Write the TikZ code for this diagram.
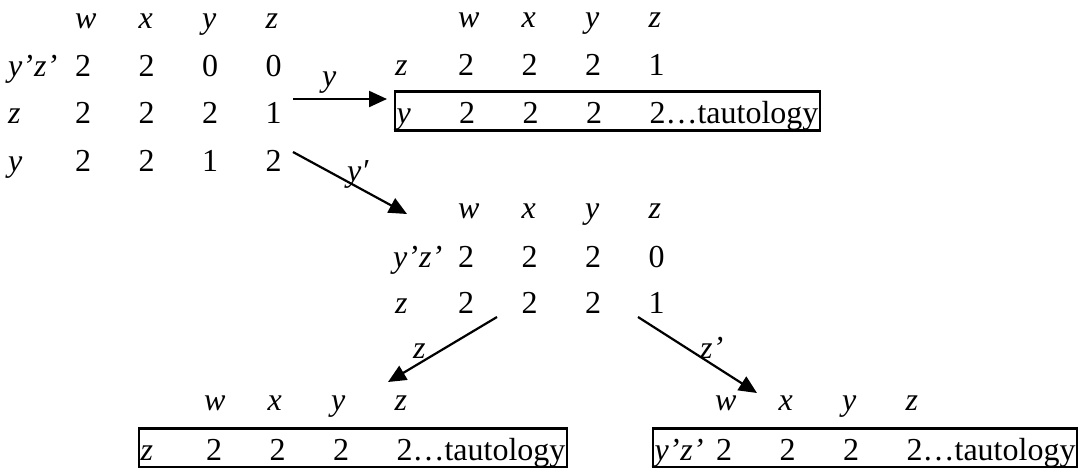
\documentclass[tikz,border=0pt]{standalone}
\usepackage{fontspec}
\setmainfont{Liberation Serif}
\usetikzlibrary{arrows.meta}

\newcommand{\tcell}[1]{\makebox[63.5pt][l]{#1}}
\newcommand{\rlab}[2]{\makebox[#1][l]{\itshape #2}}

\begin{document}
\begin{tikzpicture}[x=1pt, y=-1pt,
  row/.style={anchor=base west, inner sep=0pt, font=\fontsize{32}{38}\selectfont},
  hdr/.style={row, font=\fontsize{32}{38}\selectfont\itshape},
  tbox/.style={row, draw, line width=2.2pt, inner xsep=1.5pt, inner ysep=0pt, text height=31.5pt, text depth=7.5pt},
  arr/.style={-{Triangle[length=18pt,width=16pt]}, line width=2.2pt},
  lbl/.style={anchor=base west, inner sep=0pt, font=\fontsize{32}{38}\selectfont\itshape}
]
  \useasboundingbox (0,0) rectangle (1081,467);

  %% Table 1: start (top-left)
  \node[hdr] (t1h)  at (75,28)  {\tcell{w}\tcell{x}\tcell{y}z};
  \node[row] (t1r1) at (8,76)   {\rlab{67pt}{y’\kern1pt z’}\tcell{2}\tcell{2}\tcell{0}0};
  \node[row] (t1r2) at (8,123)  {\rlab{67pt}{z}\tcell{2}\tcell{2}\tcell{2}1};
  \node[row] (t1r3) at (8,171)  {\rlab{67pt}{y}\tcell{2}\tcell{2}\tcell{1}2};

  %% Table 2: branch y (top-right)
  \node[hdr] (t2h)  at (458,27) {\tcell{w}\tcell{x}\tcell{y}z};
  \node[row] (t2r1) at (395,75) {\rlab{63pt}{z}\tcell{2}\tcell{2}\tcell{2}1};
  \node[tbox] (t2box) at (394,123) {\rlab{62.5pt}{y}\tcell{2}\tcell{2}\tcell{2}2…tautology};

  %% Table 3: branch y' (middle)
  \node[hdr] (t3h)  at (458,218) {\tcell{w}\tcell{x}\tcell{y}z};
  \node[row] (t3r1) at (393,267) {\rlab{65pt}{y’\kern1pt z’}\tcell{2}\tcell{2}\tcell{2}0};
  \node[row] (t3r2) at (395,313) {\rlab{63pt}{z}\tcell{2}\tcell{2}\tcell{2}1};

  %% Table 4: branch z (bottom-left)
  \node[hdr] (t4h)  at (204,410) {\tcell{w}\tcell{x}\tcell{y}z};
  \node[tbox] (t4box) at (138,460) {\rlab{65.5pt}{z}\tcell{2}\tcell{2}\tcell{2}2…tautology};

  %% Table 5: branch z' (bottom-right)
  \node[hdr] (t5h)  at (715,410) {\tcell{w}\tcell{x}\tcell{y}z};
  \node[tbox] (t5box) at (652,460) {\rlab{61.5pt}{y’\kern1pt z’}\tcell{2}\tcell{2}\tcell{2}2…tautology};

  %% Arrow ends
  \coordinate (a1s) at (293,99);
  \coordinate (a1e) at (387,99);
  \coordinate (a2s) at (293,152);
  \coordinate (a2e) at (407,214);
  \coordinate (a3s) at (497,317);
  \coordinate (a3e) at (388,382);
  \coordinate (a4s) at (638,317);
  \coordinate (a4e) at (757,393);

  %% Arrows and their labels
  \draw[arr] (a1s) -- (a1e);
  \node[lbl] (l1) at (322,86) {y};
  \draw[arr] (a2s) -- (a2e);
  \node[lbl] (l2) at (347,181) {y′};
  \draw[arr] (a3s) -- (a3e);
  \node[lbl] (l3) at (413,358) {z};
  \draw[arr] (a4s) -- (a4e);
  \node[lbl] (l4) at (700,358) {z’};
\end{tikzpicture}
\end{document}
